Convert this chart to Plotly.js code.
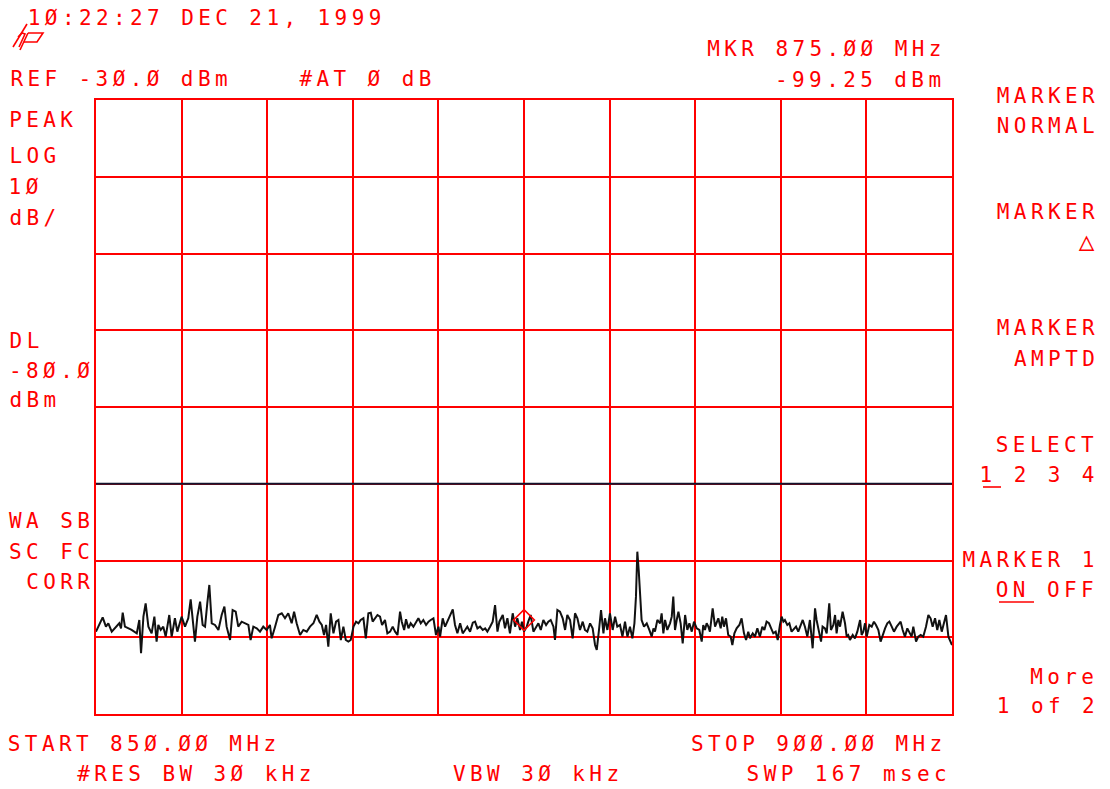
<!DOCTYPE html>
<html>
<head>
<meta charset="utf-8">
<script src="https://cdn.plot.ly/plotly-3.0.1.min.js"></script>
<style>
  html, body { margin: 0; padding: 0; background: #fff; }
  #plot { width: 1110px; height: 789px; }
  .js-plotly-plot .annotation-text { letter-spacing: 4.4px; }
</style>
</head>
<body>
<div id="plot"></div>
<script>
// Sweep settings
const startMHz = 850;
const stopMHz = 900;
const refLevelDbm = -30;
const dbPerDiv = 10;
const displayLineDbm = -80;
const markerMHz = 875.00;
const markerDbm = -99.25;

// Trace 1: measured level (dBm) against frequency (MHz)
const freqMHz = [
  850.00, 850.39, 850.58, 850.72, 850.92, 851.17, 851.36, 851.46, 851.56, 851.69,
  851.89, 852.08, 852.38, 852.53, 852.63, 852.77, 852.90, 853.06, 853.25, 853.41,
  853.54, 853.64, 853.78, 853.93, 854.07, 854.28, 854.42, 854.61, 854.75, 854.91,
  855.00, 855.20, 855.39, 855.53, 855.69, 855.78, 855.92, 856.08, 856.23, 856.37,
  856.50, 856.62, 856.76, 856.95, 857.15, 857.34, 857.50, 857.63, 857.83, 857.98,
  858.16, 858.31, 858.51, 858.70, 858.90, 859.03, 859.19, 859.39, 859.58, 859.77,
  859.97, 860.16, 860.26, 860.46, 860.65, 860.85, 861.04, 861.23, 861.43, 861.57,
  861.72, 861.92,
  862.11, 862.31, 862.50, 862.70, 862.89, 863.05, 863.19, 863.32, 863.44, 863.57,
  863.71, 863.87, 864.02, 864.16, 864.30, 864.45, 864.59, 864.74, 864.88, 865.04,
  865.19, 865.33, 865.46, 865.62, 865.76, 865.91, 866.05, 866.16, 866.30, 866.44,
  866.59, 866.71, 866.88, 867.02, 867.18, 867.33, 867.47, 867.61, 867.76, 867.86,
  868.00, 868.11, 868.25, 868.38, 868.54, 868.70, 868.83, 868.97, 869.12, 869.28,
  869.42, 869.55, 869.71, 869.86, 870.00, 870.10, 870.25, 870.39, 870.53, 870.68,
  870.84, 870.97, 871.11, 871.27, 871.42, 871.56, 871.69, 871.85, 872.01, 872.14,
  872.28, 872.43, 872.59, 872.73, 872.86, 873.02, 873.17, 873.31, 873.45, 873.56,
  873.76, 873.89, 874.03, 874.18, 874.34, 874.48, 874.61, 874.77, 874.88, 875.00,
  875.16, 875.25, 875.39, 875.55, 875.70, 875.84, 875.98, 876.13, 876.29, 876.42,
  876.56, 876.72, 876.81, 876.95, 877.10, 877.26, 877.40, 877.53, 877.69, 877.84,
  877.98, 878.12, 878.27, 878.43, 878.56, 878.70, 878.86, 879.01, 879.15, 879.25,
  879.38, 879.50, 879.64, 879.73, 879.87, 880.02, 880.18, 880.32, 880.45, 880.61,
  880.75, 880.90, 881.04, 881.19, 881.33, 881.45, 881.54, 881.62, 881.70, 881.78,
  881.87, 882.01, 882.17, 882.32, 882.46, 882.56, 882.65, 882.79, 882.95, 883.04,
  883.14, 883.24, 883.37, 883.53, 883.63, 883.72, 883.82, 883.92, 884.02, 884.15,
  884.27, 884.41, 884.54, 884.66, 884.80, 884.93, 885.09, 885.24,
  885.38, 885.47, 885.57, 885.67, 885.77, 885.86, 886.02, 886.16, 886.25, 886.35,
  886.49, 886.58, 886.68, 886.80, 886.93, 887.07, 887.17, 887.29, 887.42, 887.58,
  887.71, 887.85, 887.97, 888.10, 888.20, 888.36, 888.49, 888.63, 888.78, 888.92,
  889.04, 889.17, 889.31, 889.43, 889.56, 889.70, 889.82, 889.95, 890.05, 890.15,
  890.24, 890.38, 890.50, 890.63, 890.77, 890.89, 891.02, 891.16, 891.28, 891.41,
  891.55, 891.70, 891.86, 892.00, 892.09, 892.23, 892.35, 892.44, 892.58, 892.68,
  892.83, 892.93, 893.07, 893.17, 893.26, 893.36, 893.46, 893.61, 893.75, 893.85,
  893.94, 894.04, 894.20, 894.33, 894.47, 894.63, 894.72, 894.82, 894.92, 895.02,
  895.17, 895.31, 895.44, 895.56, 895.70, 895.83, 895.95, 896.09, 896.22, 896.34,
  896.48, 896.61, 896.77, 896.90, 897.00, 897.12, 897.25, 897.39, 897.51, 897.64,
  897.74, 897.90, 898.03, 898.17, 898.32, 898.48, 898.62, 898.75, 898.87, 899.01,
  899.14, 899.26, 899.40, 899.53, 899.65, 899.79, 899.92, 900.00
];
const levelDbm = [
  -99.27, -97.40, -98.62, -98.18, -99.27, -98.62, -98.18, -98.84, -96.80, -98.62,
  -98.84, -99.05, -99.49, -97.75, -102.09, -97.32, -95.58, -98.62, -99.49, -97.32,
  -100.57, -98.40, -99.05, -98.62, -99.92, -97.10, -99.92, -97.53, -99.27, -98.18,
  -97.32, -98.62, -97.53, -95.06, -98.62, -100.57, -97.32, -95.36, -98.40, -98.62,
  -95.58, -93.19, -98.18, -98.40, -99.05, -97.10, -96.01, -98.62, -100.36, -96.45,
  -96.67, -98.62, -97.97, -98.18, -98.40, -100.36, -98.62, -98.84, -99.27, -98.62,
  -99.05, -98.40, -100.14, -98.62, -97.10, -96.88, -97.53, -96.88, -98.18, -96.67,
  -98.18, -99.71,
  -99.05, -99.27, -98.62, -98.18, -97.10, -97.97, -98.40, -99.71, -98.40, -101.23,
  -96.88, -99.49, -97.97, -97.75, -100.36, -98.62, -100.36, -100.57, -100.36, -98.62,
  -97.97, -98.18, -97.75, -97.53, -100.14, -96.88, -96.80, -97.97, -97.53, -97.10,
  -97.32, -98.40, -97.75, -99.49, -99.27, -98.62, -99.27, -99.71, -96.67, -97.97,
  -99.05, -97.66, -98.84, -98.18, -98.62, -97.97, -97.53, -98.18, -97.75, -98.40,
  -97.97, -97.75, -97.53, -99.71, -98.62, -99.92, -97.53, -98.62, -97.97, -97.10,
  -96.36, -98.40, -99.49, -98.18, -99.49, -99.05, -98.62, -99.27, -98.10, -97.97,
  -98.84, -98.62, -99.05, -98.84, -99.27, -98.62, -97.97, -95.80, -99.27, -97.97,
  -97.10, -98.84, -97.53, -99.49, -96.88, -98.62, -97.53, -99.05, -97.97, -99.25,
  -98.62, -97.97, -97.10, -99.27, -98.62, -98.19, -99.05, -97.75, -98.40, -97.97,
  -97.75, -98.62, -100.36, -96.45, -96.67, -97.53, -99.05, -97.10, -97.75, -100.14,
  -96.88, -97.53, -99.05, -97.97, -99.05, -99.27, -98.19, -98.84, -101.01, -101.66,
  -99.05, -96.45, -99.49, -97.53, -99.05, -96.88, -99.05, -97.32, -98.62, -98.40,
  -99.92, -97.97, -99.92, -98.62, -100.14, -98.19, -94.71, -88.85, -91.24, -95.15,
  -97.75, -98.62, -98.19, -99.05, -99.92, -98.84, -99.27, -97.75, -98.19, -96.88,
  -99.49, -97.75, -99.05, -98.19, -97.32, -94.71, -99.05, -97.75, -96.67, -98.19,
  -100.79, -97.10, -99.05, -98.19, -99.27, -97.97, -98.84, -99.05,
  -100.57, -98.40, -99.05, -98.18, -98.62, -99.27, -96.23, -98.62, -97.97, -97.53,
  -98.84, -97.32, -98.62, -97.53, -99.71, -99.92, -101.01, -99.49, -98.84, -98.40,
  -97.53, -99.49, -100.36, -99.27, -100.14, -99.49, -99.92, -98.84, -99.92, -98.62,
  -99.05, -97.97, -98.18, -98.84, -99.49, -99.27, -100.36, -98.40, -97.32, -97.97,
  -97.75, -98.40, -98.18, -99.27, -98.84, -98.62, -99.27, -98.40, -97.75, -98.62,
  -99.92, -97.75, -101.44, -96.23, -97.75, -99.27, -100.57, -98.62, -98.84, -99.49,
  -95.58, -99.05, -98.40, -97.10, -99.49, -97.75, -98.62, -96.67, -98.18, -99.92,
  -99.71, -100.36, -99.71, -100.14, -99.27, -97.75, -99.71, -99.27, -98.18, -99.92,
  -98.40, -98.62, -97.97, -98.40, -99.05, -100.57, -99.71, -98.84, -98.18, -97.97,
  -98.62, -99.27, -98.62, -98.18, -97.97, -99.05, -99.92, -98.84, -99.27, -99.92,
  -98.62, -100.57, -99.92, -99.71, -99.92, -98.62, -97.10, -97.53, -98.62, -97.53,
  -99.05, -97.75, -99.27, -97.97, -97.10, -99.92, -100.57, -101.01
];

// Screen annotation text
const dateText = '1Ø:22:27 DEC 21, 1999';
const refText = 'REF -3Ø.Ø dBm';
const attenText = '#AT Ø dB';
const mkrFreqText = 'MKR 875.ØØ MHz';
const mkrLevelText = '-99.25 dBm';
const leftPanel = ['PEAK', 'LOG', '1Ø', 'dB/', 'DL', '-8Ø.Ø', 'dBm', 'WA SB', 'SC FC', 'CORR'];
const softKeys = ['MARKER', 'NORMAL', 'MARKER', '△', 'MARKER', 'AMPTD', 'SELECT', '1 2 3 4', 'MARKER 1', 'ON OFF', 'More', '1 of 2'];
const bottomText = ['START 85Ø.ØØ MHz', 'STOP 9ØØ.ØØ MHz', '#RES BW 3Ø kHz', 'VBW 3Ø kHz', 'SWP 167 msec'];

// Graticule frame in page pixels
const FRAME = { l: 96, t: 100, w: 856, h: 614 };
const W = 1110, H = 789;
const px = x => (x - FRAME.l) / FRAME.w;
const py = y => (FRAME.t + FRAME.h - y) / FRAME.h;

const RED = '#ff0000';
const PITCH = 17;   // character cell width of the screen font, px
const FONT = { family: 'DejaVu Sans Mono, monospace', size: 21, color: RED };

// Text is centred on its anchor, so place the anchor half a line-width
// to the right of the wanted left edge.
function label(text, left, y, font) {
  const n = Array.from(text).length;
  return {
    text: text, xref: 'paper', yref: 'paper', x: px(left + n * PITCH / 2), y: py(y),
    xanchor: 'center', yanchor: 'middle', showarrow: false,
    borderpad: 0, borderwidth: 0, font: font || FONT
  };
}

const annotations = [
  label(dateText, 28, 18),
  label(refText, 10, 79),
  label(attenText, 299, 79),
  label(mkrFreqText, 707, 49),
  label(mkrLevelText, 775, 80),
  // left status column
  label(leftPanel[0], 9, 120),
  label(leftPanel[1], 9, 156),
  label(leftPanel[2], 9, 187),
  label(leftPanel[3], 9, 218),
  label(leftPanel[4], 9, 341),
  label(leftPanel[5], 9, 371),
  label(leftPanel[6], 9, 400),
  label(leftPanel[7], 9, 521),
  label(leftPanel[8], 9, 552),
  label(leftPanel[9], 26, 582),
  // soft keys
  label(softKeys[0], 997, 96),
  label(softKeys[1], 997, 126),
  label(softKeys[2], 997, 212),
  label(softKeys[3], 1080, 241, { family: FONT.family, size: 26, color: RED }),
  label(softKeys[4], 997, 328),
  label(softKeys[5], 1014, 359),
  label(softKeys[6], 996, 445),
  label(softKeys[7], 980, 475),
  label(softKeys[8], 962, 560),
  label(softKeys[9], 996, 590),
  label(softKeys[10], 1030, 677),
  label(softKeys[11], 997, 706),
  // bottom line
  label(bottomText[0], 8, 744),
  label(bottomText[1], 691, 744),
  label(bottomText[2], 77, 774),
  label(bottomText[3], 453, 774),
  label(bottomText[4], 747, 774)
];

function pathFrom(points) {
  return points.map((p, i) => (i ? 'L' : 'M') + px(p[0]).toFixed(5) + ',' + py(p[1]).toFixed(5)).join(' ');
}

const logoStroke = { color: RED, width: 1.6 };
const shapes = [
  // display line
  { type: 'line', xref: 'x', yref: 'y', x0: startMHz, x1: stopMHz, y0: displayLineDbm, y1: displayLineDbm,
    line: { color: '#14142e', width: 2 } },
  // underlines on the active soft-key choices
  { type: 'line', xref: 'paper', yref: 'paper', x0: px(983), x1: px(1001), y0: py(487), y1: py(487),
    line: { color: RED, width: 1.6 } },
  { type: 'line', xref: 'paper', yref: 'paper', x0: px(999), x1: px(1034), y0: py(602), y1: py(602),
    line: { color: RED, width: 1.6 } },
  // hp logo
  { type: 'path', xref: 'paper', yref: 'paper', line: logoStroke,
    path: pathFrom([[27, 24], [13, 47]]) },
  { type: 'path', xref: 'paper', yref: 'paper', line: logoStroke,
    path: pathFrom([[18, 37], [22, 33], [25, 34], [19, 47]]) },
  { type: 'path', xref: 'paper', yref: 'paper', line: logoStroke,
    path: pathFrom([[28, 33], [20, 50]]) },
  { type: 'path', xref: 'paper', yref: 'paper', line: logoStroke,
    path: pathFrom([[28, 33], [43, 33], [37, 42], [24, 42]]) }
];

const traces = [
  {
    type: 'scatter', mode: 'lines', x: freqMHz, y: levelDbm,
    line: { color: '#111111', width: 2 }, hoverinfo: 'skip'
  },
  {
    // marker diamond rests on top of the marked point
    type: 'scatter', mode: 'markers', x: [markerMHz], y: [markerDbm + 1.5],
    marker: { symbol: 'diamond-open', size: 16, color: RED, line: { color: RED, width: 1.6 } },
    hoverinfo: 'skip', cliponaxis: false
  }
];

const axisCommon = {
  showticklabels: false, ticks: '', showgrid: true, gridcolor: RED, gridwidth: 2,
  zeroline: false, showline: true, mirror: true, linecolor: RED, linewidth: 2, fixedrange: true
};

const layout = {
  width: W, height: H,
  margin: { l: FRAME.l, r: W - FRAME.l - FRAME.w, t: FRAME.t, b: H - FRAME.t - FRAME.h, pad: 0 },
  paper_bgcolor: '#ffffff', plot_bgcolor: '#ffffff',
  showlegend: false,
  xaxis: Object.assign({ range: [startMHz, stopMHz], tick0: startMHz, dtick: (stopMHz - startMHz) / 10 }, axisCommon),
  yaxis: Object.assign({ range: [refLevelDbm - 8 * dbPerDiv, refLevelDbm], tick0: refLevelDbm, dtick: dbPerDiv }, axisCommon),
  annotations: annotations,
  shapes: shapes
};

Plotly.newPlot('plot', traces, layout, { displayModeBar: false, staticPlot: true });
</script>
</body>
</html>
